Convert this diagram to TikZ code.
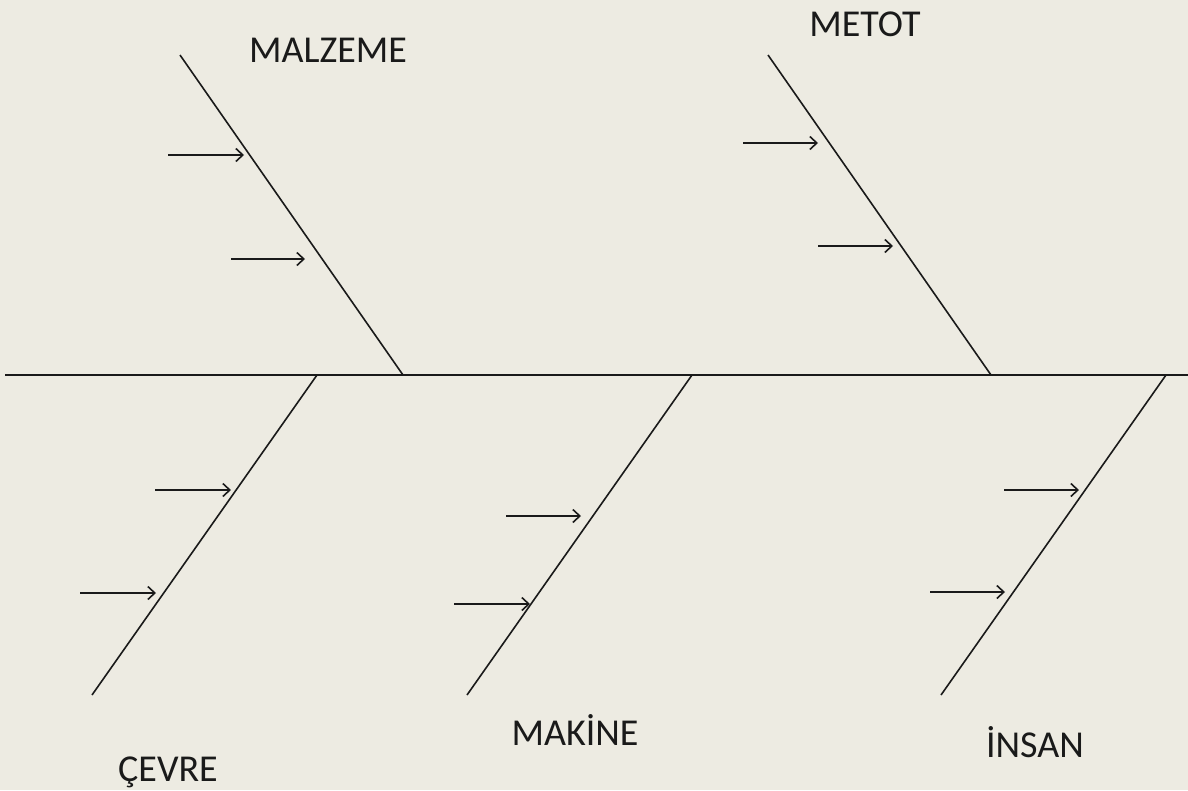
\documentclass[tikz,border=0pt]{standalone}
\usepackage{fontspec}
\setmainfont{Carlito}
\usetikzlibrary{arrows.meta}
\definecolor{bg}{HTML}{EDEBE2}
\definecolor{ink}{HTML}{1A1A1A}
\begin{document}
\begin{tikzpicture}[x=1pt,y=-1pt,
  bone/.style={draw=ink,line width=1.6pt},
  spinestyle/.style={draw=ink,line width=2pt},
  cause/.style={draw=ink,line width=1.6pt,-{Straight Barb[length=7pt,width=13pt,line width=1.6pt]}},
  lbl/.style={font=\fontsize{38}{44}\selectfont,text=ink,inner sep=0pt}]
\fill[bg] (0,0) rectangle (1188,790);
\useasboundingbox (0,0) rectangle (1188,790);
% spine
\coordinate (s0) at (5,375);
\coordinate (s1) at (1188,375);
\draw[spinestyle] (s0) -- (s1);
% MALZEME
\coordinate (m1) at (180,55); \coordinate (m2) at (403,375);
\draw[bone] (m1) -- (m2);
\coordinate (ma1) at (168,155); \coordinate (ma2) at (244,155);
\coordinate (mb1) at (231,259); \coordinate (mb2) at (305,259);
\draw[cause] (ma1) -- (ma2);
\draw[cause] (mb1) -- (mb2);
\node[lbl] (malzeme) at (328,50) {MALZEME};
% METOT
\coordinate (t1) at (768,55); \coordinate (t2) at (991,375);
\draw[bone] (t1) -- (t2);
\coordinate (ta1) at (743,143); \coordinate (ta2) at (818,143);
\coordinate (tb1) at (818,246); \coordinate (tb2) at (893,246);
\draw[cause] (ta1) -- (ta2);
\draw[cause] (tb1) -- (tb2);
\node[lbl] (metot) at (865,24) {METOT};
% CEVRE
\coordinate (c1) at (317,375); \coordinate (c2) at (92,695);
\draw[bone] (c1) -- (c2);
\coordinate (ca1) at (155,490); \coordinate (ca2) at (231,490);
\coordinate (cb1) at (80,593); \coordinate (cb2) at (156,593);
\draw[cause] (ca1) -- (ca2);
\draw[cause] (cb1) -- (cb2);
\node[lbl] (cevre) at (168,772) {ÇEVRE};
% MAKINE
\coordinate (k1) at (692,375); \coordinate (k2) at (467,695);
\draw[bone] (k1) -- (k2);
\coordinate (ka1) at (506,516); \coordinate (ka2) at (581,516);
\coordinate (kb1) at (454,604); \coordinate (kb2) at (530,604);
\draw[cause] (ka1) -- (ka2);
\draw[cause] (kb1) -- (kb2);
\node[lbl] (makine) at (575,730) {MAKİNE};
% INSAN
\coordinate (i1) at (1166,375); \coordinate (i2) at (941,695);
\draw[bone] (i1) -- (i2);
\coordinate (ia1) at (1004,490); \coordinate (ia2) at (1079,490);
\coordinate (ib1) at (930,592); \coordinate (ib2) at (1005,592);
\draw[cause] (ia1) -- (ia2);
\draw[cause] (ib1) -- (ib2);
\node[lbl] (insan) at (1035,742) {İNSAN};
\end{tikzpicture}
\end{document}
